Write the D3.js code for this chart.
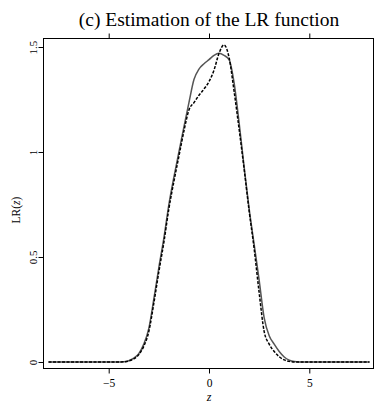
<!DOCTYPE html>
<html><head><meta charset="utf-8">
<script src="https://cdn.jsdelivr.net/npm/d3@7"></script>
<style>
html,body{margin:0;padding:0;background:#fff;}
svg{display:block;}
svg text{font-family:"Liberation Serif","DejaVu Serif",serif;}
</style></head>
<body>
<svg id="chart" width="374" height="405"></svg>
<script>
const title = "(c) Estimation of the LR function";
const xTicks = [-5, 0, 5];
const yTicks = [0, 0.5, 1, 1.5];
const yTickLabels = ["0", "0.5", "1", "1.5"];

const zValues = [-8, -4.5, -4.25, -4, -3.75, -3.5, -3.25, -3, -2.75, -2.5, -2.25, -2, -1.75, -1.5, -1.25, -1, -0.75, -0.5, -0.25, 0, 0.25, 0.5, 0.75, 1, 1.25, 1.5, 1.75, 2, 2.25, 2.5, 2.75, 3, 3.25, 3.5, 3.75, 4, 4.25, 4.5, 8];
const lrSolid = [0, 0, 0.001, 0.006, 0.018, 0.04, 0.085, 0.16, 0.30, 0.45, 0.59, 0.75, 0.88, 1.00, 1.12, 1.235, 1.345, 1.395, 1.42, 1.44, 1.46, 1.47, 1.46, 1.44, 1.33, 1.14, 0.93, 0.73, 0.56, 0.39, 0.21, 0.125, 0.085, 0.05, 0.024, 0.009, 0.002, 0, 0];
const lrDashed = [0, 0, 0.001, 0.005, 0.015, 0.035, 0.075, 0.145, 0.28, 0.43, 0.57, 0.73, 0.86, 0.98, 1.10, 1.20, 1.235, 1.27, 1.30, 1.335, 1.39, 1.47, 1.51, 1.45, 1.29, 1.11, 0.92, 0.72, 0.54, 0.33, 0.145, 0.085, 0.05, 0.025, 0.01, 0.003, 0, 0, 0];

const svg = d3.select("#chart");
const x = d3.scaleLinear().domain([-8.25, 8.2]).range([43.5, 373.5]);
const y = d3.scaleLinear().domain([-0.031, 1.5405]).range([368.5, 38.5]);

svg.append("rect")
  .attr("x", x.range()[0]).attr("y", y.range()[1])
  .attr("width", x.range()[1] - x.range()[0])
  .attr("height", y.range()[0] - y.range()[1])
  .attr("fill", "none").attr("stroke", "#000").attr("stroke-width", 1);

const gx = svg.append("g").attr("transform", `translate(0,${y.range()[0]})`)
  .call(d3.axisBottom(x).tickValues(xTicks).tickSize(5).tickPadding(5).tickFormat(d3.format("d")));
gx.select(".domain").remove();
gx.selectAll("text").attr("font-size", 11.5).attr("font-family", "Liberation Serif").attr("fill", "#000");

const gt = svg.append("g").attr("transform", `translate(0,${y.range()[1]})`)
  .call(d3.axisTop(x).tickValues(xTicks).tickSize(5).tickFormat(""));
gt.select(".domain").remove();

const gy = svg.append("g").attr("transform", `translate(${x.range()[0]},0)`)
  .call(d3.axisLeft(y).tickValues(yTicks).tickSize(5).tickFormat((d, i) => yTickLabels[i]));
gy.select(".domain").remove();
gy.selectAll("text")
  .attr("font-size", 11).attr("font-family", "Liberation Serif").attr("fill", "#000")
  .attr("x", null).attr("dy", null)
  .attr("text-anchor", "middle")
  .attr("transform", "translate(-6.5,0) rotate(-90)");

const line = d3.line().x(d => x(d[0])).y(d => y(d[1])).curve(d3.curveMonotoneX);
svg.append("path").datum(zValues.map((z, i) => [z, lrSolid[i]]))
  .attr("d", line).attr("fill", "none").attr("stroke", "#555").attr("stroke-width", 1.5);
svg.append("path").datum(zValues.map((z, i) => [z, lrDashed[i]]))
  .attr("d", line).attr("fill", "none").attr("stroke", "#000").attr("stroke-width", 1.5)
  .attr("stroke-dasharray", "3,1.5");

svg.append("text").attr("x", 209).attr("y", 26).attr("text-anchor", "middle")
  .attr("font-family", "Liberation Serif")
  .attr("font-size", 19.5).attr("fill", "#000").text(title);

svg.append("text").attr("x", 209).attr("y", 401).attr("text-anchor", "middle")
  .attr("font-family", "Liberation Serif")
  .attr("font-size", 12).attr("font-style", "italic").attr("fill", "#000").text("z");
const yl = svg.append("text").attr("transform", "translate(20,210) rotate(-90)")
  .attr("font-family", "Liberation Serif")
  .attr("text-anchor", "middle").attr("font-size", 11.5).attr("fill", "#000");
yl.append("tspan").text("LR(");
yl.append("tspan").attr("font-style", "italic").text("z");
yl.append("tspan").text(")");
</script>
</body></html>
